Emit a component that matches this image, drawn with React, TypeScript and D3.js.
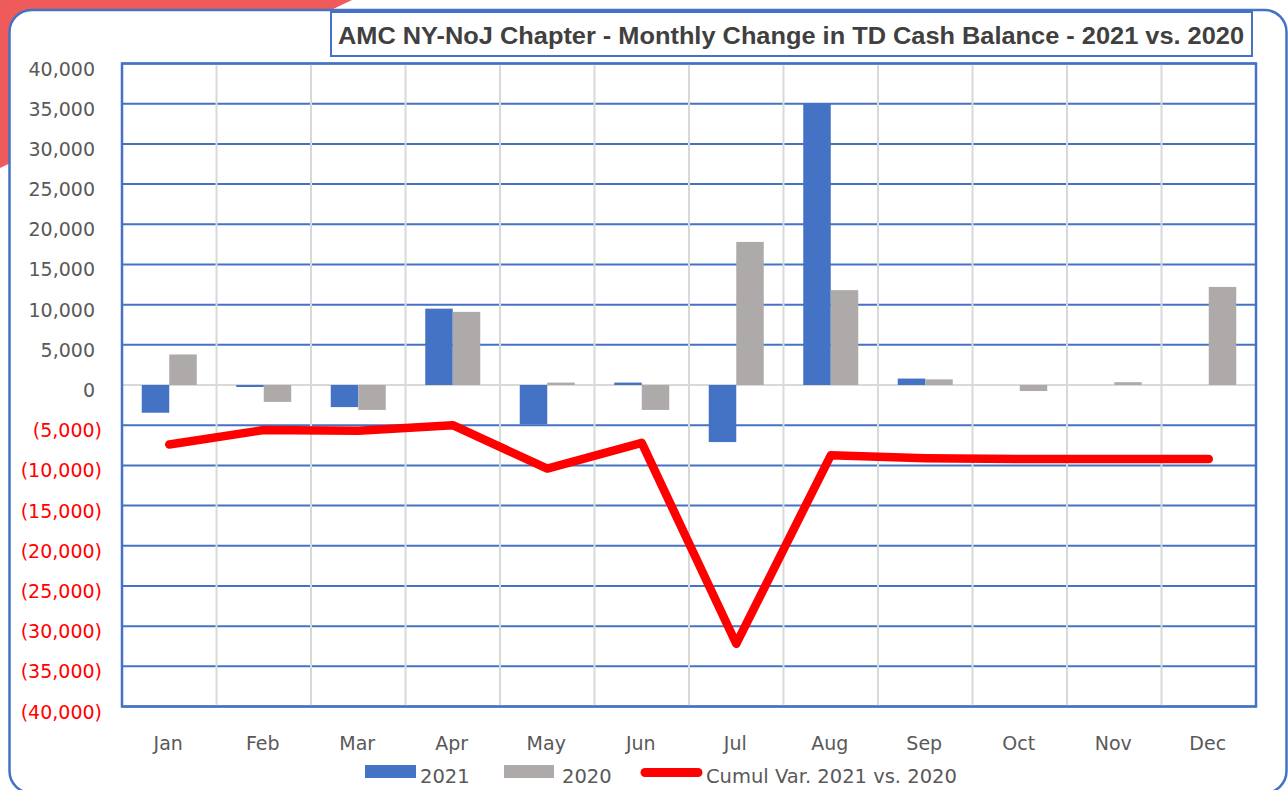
import React from "react";
import * as d3 from "d3";

const months = ["Jan", "Feb", "Mar", "Apr", "May", "Jun", "Jul", "Aug", "Sep", "Oct", "Nov", "Dec"];
const series = ["2021", "2020"];
const values2021 = [-3450, -250, -2750, 9500, -4900, 300, -7100, 35000, 800, 0, 0, 0];
const values2020 = [3800, -2100, -3100, 9100, 300, -3100, 17800, 11800, 700, -750, 350, 12200];
const cumulVar = [-7400, -5600, -5700, -5000, -10400, -7200, -32200, -8750, -9100, -9200, -9200, -9200];
const yTicks = [40000, 35000, 30000, 25000, 20000, 15000, 10000, 5000, 0, -5000, -10000, -15000, -20000, -25000, -30000, -35000, -40000];
const title = "AMC NY-NoJ Chapter - Monthly Change in TD Cash Balance - 2021 vs. 2020";
const lineLabel = "Cumul Var. 2021 vs. 2020";

const W = 1288;
const H = 790;
const BLUE = "#4472c4";
const GREY = "#aeaaaa";
const GRID = "#d9d9d9";
const RED = "#ff0000";
const TXT = "#595959";
const FONT = "'DejaVu Sans', 'Liberation Sans', sans-serif";

export default function App() {
  const left = 122, right = 1256, top = 63.5, bottom = 706.5;
  const x = d3.scaleBand<string>().domain(months).range([left, right]).paddingInner(0.418).paddingOuter(0.209);
  const x1 = d3.scaleBand<string>().domain(series).range([0, x.bandwidth()]);
  const y = d3.scaleLinear().domain([-40000, 40000]).range([bottom, top]);
  const step = x.step();
  const fmt = d3.format(",");
  const seriesVals: Record<string, number[]> = { "2021": values2021, "2020": values2020 };
  const colors: Record<string, string> = { "2021": BLUE, "2020": GREY };

  const line = d3
    .line<number>()
    .x((_, i) => (x(months[i]) as number) + x.bandwidth() / 2)
    .y((d) => y(d));

  return (
    <svg width={W} height={H} style={{ position: "absolute", left: 0, top: 0 }} xmlns="http://www.w3.org/2000/svg">
      <rect x={0} y={0} width={W} height={H} fill="#ffffff" />
      <polygon points="0,0 352,0 0,168" fill="#ef5a5a" />
      <rect x={9.5} y={10} width={1277} height={783} rx={22} ry={22} fill="#ffffff" stroke={BLUE} strokeWidth={2.5} />

      {/* title */}
      <rect x={331} y={12} width={921} height={44} fill="#ffffff" stroke={BLUE} strokeWidth={2} />
      <text
        x={338}
        y={43.5}
        fontFamily="'Liberation Sans Narrow', 'Liberation Sans', sans-serif"
        fontWeight="bold"
        fontSize={23}
        fill="#404040"
        textLength={906}
        lengthAdjust="spacingAndGlyphs"
      >
        {title}
      </text>

      {/* horizontal gridlines */}
      {yTicks
        .filter((t) => t !== 0)
        .map((t) => (
          <line key={"h" + t} x1={left} x2={right} y1={y(t)} y2={y(t)} stroke={BLUE} strokeWidth={2} />
        ))}
      {/* vertical gridlines */}
      {months.slice(1).map((m, i) => {
        const xv = left + step * (i + 1);
        return <line key={"v" + m} x1={xv} x2={xv} y1={top} y2={bottom} stroke={GRID} strokeWidth={2} />;
      })}
      {/* zero axis */}
      <line x1={left} x2={right} y1={y(0)} y2={y(0)} stroke={GRID} strokeWidth={2} />
      {/* plot border */}
      <rect x={left} y={top} width={right - left} height={bottom - top} fill="none" stroke={BLUE} strokeWidth={2.5} />

      {/* y tick labels */}
      {yTicks.map((t) => (
        <text
          key={"yl" + t}
          x={t < 0 ? 102 : 95}
          y={y(t) + 12}
          textAnchor="end"
          fontFamily={FONT}
          fontSize={19}
          fill={t < 0 ? RED : TXT}
        >
          {t < 0 ? `(${fmt(-t)})` : fmt(t)}
        </text>
      ))}

      {/* bars */}
      {months.map((m, i) => (
        <g key={"g" + m} transform={`translate(${x(m)},0)`}>
          {series.map((s) => {
            const v = seriesVals[s][i];
            if (v === 0) return null;
            return (
              <rect
                key={s}
                x={x1(s)}
                width={x1.bandwidth()}
                y={Math.min(y(v), y(0))}
                height={Math.abs(y(v) - y(0))}
                fill={colors[s]}
              />
            );
          })}
        </g>
      ))}

      {/* cumulative line */}
      <path d={line(cumulVar) || ""} fill="none" stroke={RED} strokeWidth={8.5} strokeLinejoin="round" strokeLinecap="round" />

      {/* x labels */}
      {months.map((m) => (
        <text
          key={"xl" + m}
          x={(x(m) as number) + x.bandwidth() / 2 - 1}
          y={750}
          textAnchor="middle"
          fontFamily={FONT}
          fontSize={19}
          fill={TXT}
        >
          {m}
        </text>
      ))}

      {/* legend */}
      <rect x={365} y={765} width={51} height={13} fill={BLUE} />
      <text x={420} y={783} fontFamily={FONT} fontSize={19.5} fill={TXT}>
        {series[0]}
      </text>
      <rect x={504} y={765} width={50} height={13} fill={GREY} />
      <text x={562} y={783} fontFamily={FONT} fontSize={19.5} fill={TXT}>
        {series[1]}
      </text>
      <line x1={645} x2={698} y1={772.5} y2={772.5} stroke={RED} strokeWidth={9} strokeLinecap="round" />
      <text x={706} y={783} fontFamily={FONT} fontSize={19.5} fill={TXT}>
        {lineLabel}
      </text>
    </svg>
  );
}
